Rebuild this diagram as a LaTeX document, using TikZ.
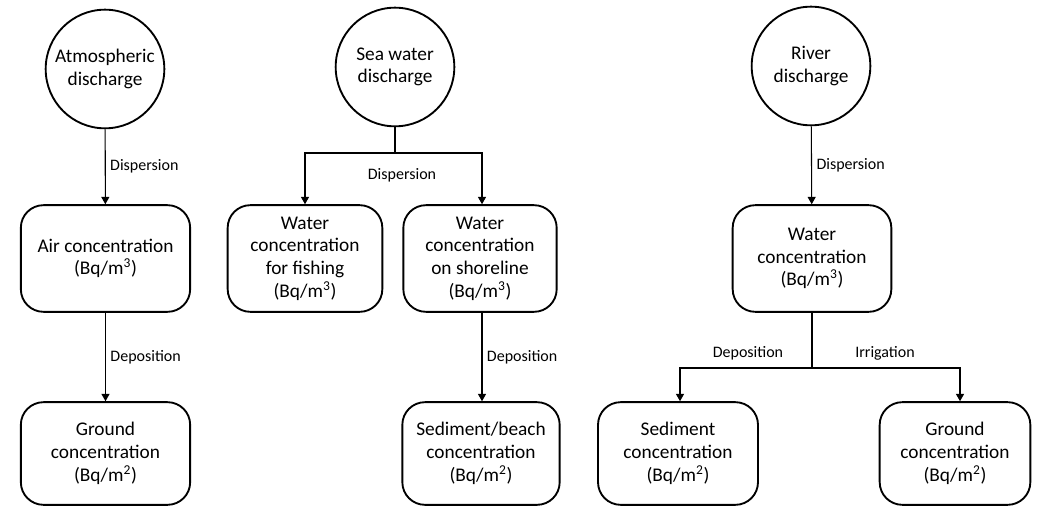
\documentclass[tikz,border=0pt]{standalone}
\usepackage{fontspec}
\setmainfont{Carlito}
\usetikzlibrary{arrows.meta, positioning}

\begin{document}
\begin{tikzpicture}[x=0.75pt, y=-0.75pt,
  src/.style = {draw, circle, line width=1.4pt, minimum size=89pt, inner sep=0pt,
    align=center, font=\fontsize{14.5}{17}\selectfont},
  conc/.style = {draw, rounded corners=17pt, line width=1.4pt, minimum height=80pt,
    align=center, font=\fontsize{14.5}{17}\selectfont},
  arr/.style = {line width=0.8pt, -{Triangle[width=6pt, length=5.5pt]}},
  lbl/.style = {font=\fontsize{12}{14}\selectfont}
]
\useasboundingbox (0, 0) rectangle (1045, 506);

% sources
\node[src] (atmo) at (105, 69) {Atmospheric\\discharge};
\node[src] (sea) at (395, 67) {Sea water\\discharge};
\node[src] (river) at (811, 66) {River\\discharge};

% first row
\node[conc, minimum width=127pt] (airconc) at (105.5, 258.5) {Air concentration\\(Bq/m\textsuperscript{3})};
\node[conc, minimum width=116pt] (fishconc) at (305, 258.5) {Water\\concentration\\for fishing\\(Bq/m\textsuperscript{3})};
\node[conc, minimum width=115pt] (shoreconc) at (480, 258.5) {Water\\concentration\\on shoreline\\(Bq/m\textsuperscript{3})};
\node[conc, minimum width=119pt] (riverconc) at (812, 258.5) {Water\\concentration\\(Bq/m\textsuperscript{3})};

% second row
\node[conc, minimum width=127pt, minimum height=77pt] (groundA) at (105.5, 453.5) {Ground\\concentration\\(Bq/m\textsuperscript{2})};
\node[conc, minimum width=118pt, minimum height=77pt] (beachconc) at (481, 453.5) {Sediment/beach\\concentration\\(Bq/m\textsuperscript{2})};
\node[conc, minimum width=120pt, minimum height=77pt] (sedconc) at (678, 453.5) {Sediment\\concentration\\(Bq/m\textsuperscript{2})};
\node[conc, minimum width=113pt, minimum height=77pt] (groundB) at (955, 453.5) {Ground\\concentration\\(Bq/m\textsuperscript{2})};

% atmospheric branch
\draw[arr] (atmo) -- (airconc) node[midway, right, lbl] {Dispersion};
\draw[arr] (airconc) -- (groundA) node[midway, right, lbl] {Deposition};

% sea branch
\coordinate (seasplit) at (395, 153);
\draw[line width=0.8pt] (sea) -- (seasplit);
\draw[arr] (seasplit) -| (fishconc.north);
\draw[arr] (seasplit) -| ([xshift=1.5pt]shoreconc.north);
\node[lbl] (seadisp) at (402, 175) {Dispersion};
\draw[arr] ([xshift=1.5pt]shoreconc.south) -- ([xshift=0.75pt]beachconc.north) node[midway, right, lbl] {Deposition};

% river branch
\draw[arr] (river) -- (riverconc) node[midway, right, lbl] {Dispersion};
\coordinate (riversplit) at (812, 368);
\draw[line width=0.8pt] (riverconc) -- (riversplit);
\draw[arr] (riversplit) -| ([xshift=1.5pt]sedconc.north);
\draw[arr] (riversplit) -| ([xshift=3.75pt]groundB.north);
\node[lbl] (riverdep) at (748, 353) {Deposition};
\node[lbl] (riverirr) at (885, 353) {Irrigation};
\end{tikzpicture}
\end{document}
